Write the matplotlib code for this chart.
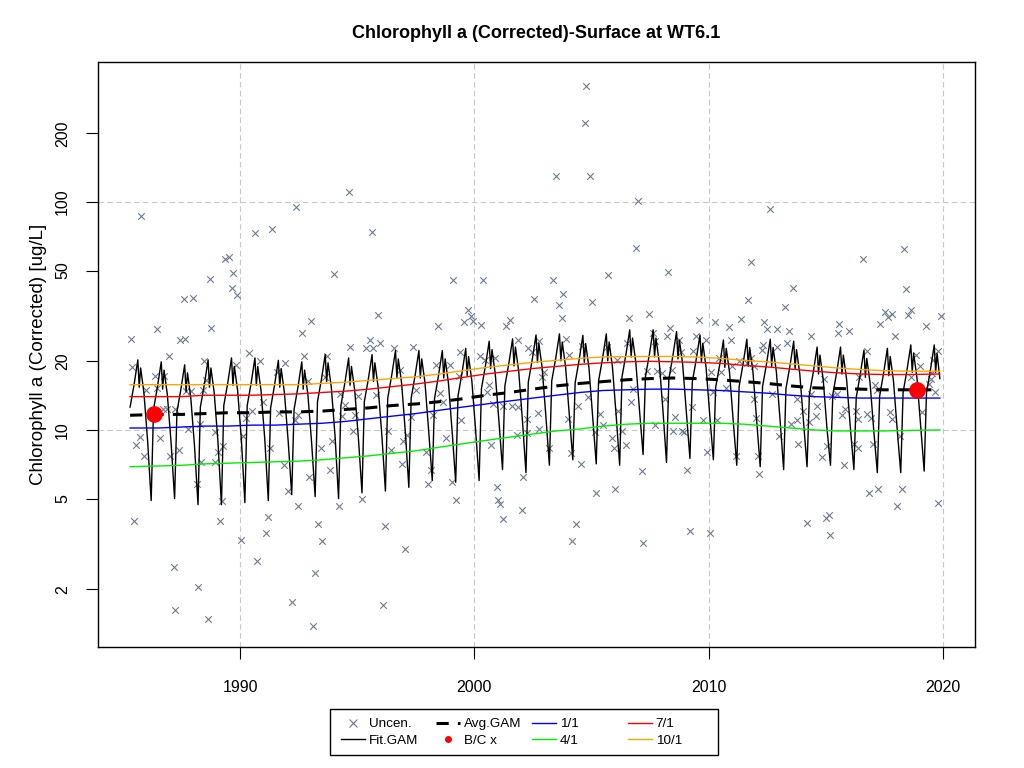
import numpy as np
import matplotlib
matplotlib.use("Agg")
import matplotlib.pyplot as plt
from matplotlib.lines import Line2D
from matplotlib.patches import Rectangle
from matplotlib.ticker import FixedLocator, FixedFormatter, NullLocator

plt.rcParams['font.family'] = ['Liberation Sans', 'DejaVu Sans']

TITLE = "Chlorophyll a (Corrected)-Surface at WT6.1"
YLABEL = "Chlorophyll a (Corrected) [ug/L]"

# uncensored observations (decimal year, ug/L)
OBS_YEAR = [
    1985.78, 1985.33, 1985.38, 1986.44, 1986.95, 1987.42, 1987.66, 1987.60, 1987.97, 1988.71,
    1989.37, 1989.54, 1989.71, 1989.64, 1989.88, 1988.77, 1988.46, 1988.54, 1985.98, 1986.38,
    1986.75, 1986.47, 1986.72, 1986.86, 1987.23, 1987.68, 1987.92, 1988.43, 1987.77, 1988.29,
    1988.94, 1990.13, 1990.26, 1985.74, 1985.55, 1986.57, 1985.88, 1987.00, 1987.38, 1989.05,
    1989.28, 1988.34, 1988.91, 1988.17, 1989.23, 1985.47, 1989.14, 1990.05, 1987.18, 1988.20,
    1987.20, 1988.63, 1990.39, 1989.84,
    1994.65, 1992.37, 1990.63, 1991.35, 1995.61, 1994.02, 1993.02, 1992.63, 1995.87, 1990.85,
    1991.91, 1992.74, 1993.71, 1994.70, 1995.54, 1995.36, 1995.67, 1995.97, 1996.58, 1991.56,
    1992.91, 1993.62, 1994.26, 1994.47, 1995.04, 1995.78, 1990.99, 1990.49, 1991.66, 1992.48,
    1992.34, 1994.33, 1994.90, 1994.83, 1996.32, 1993.45, 1993.93, 1991.27, 1991.89, 1993.82,
    1992.94, 1996.44, 1992.03, 1992.45, 1994.23, 1995.19, 1991.20, 1991.09, 1993.31, 1993.48,
    1996.18, 1990.72, 1993.19, 1992.20, 1996.11, 1993.10,
    1999.10, 2000.38, 2002.54, 1999.73, 1999.84, 1999.55, 1999.92, 2000.27, 1998.46, 2001.35,
    2001.52, 2001.87, 1997.36, 1999.38, 2000.24, 2000.88, 2002.30, 2002.44, 2002.77, 1996.82,
    1998.36, 1998.96, 2000.45, 1999.36, 2000.61, 2000.52, 1997.51, 1998.53, 1998.67, 2000.81,
    2001.23, 2001.59, 2001.87, 2002.73, 1997.28, 1998.25, 1999.41, 2002.26, 1997.11, 2002.23,
    2001.80, 2002.75, 1998.79, 2000.69, 1996.97, 1997.93, 1996.91, 1998.13, 1998.00, 1999.04,
    2000.95, 2002.09, 1999.21, 2001.02, 2001.09, 2001.23, 2002.03, 1997.04,
    2004.76, 2004.72, 2003.47, 2004.93, 2006.97, 2006.88, 2008.27, 2005.69, 2003.35, 2003.78,
    2003.61, 2005.00, 2003.72, 2006.60, 2007.45, 2008.36, 2003.89, 2007.64, 2008.20, 2006.51,
    2007.71, 2008.73, 2005.64, 2004.58, 2004.03, 2006.07, 2008.84, 2002.98, 2007.35, 2007.78,
    2008.42, 2007.99, 2002.87, 2004.86, 2006.78, 2006.68, 2008.13, 2004.41, 2005.36, 2006.14,
    2008.56, 2003.98, 2007.73, 2008.49, 2008.86, 2005.50, 2005.14, 2005.86, 2006.31, 2005.96,
    2006.45, 2003.18, 2004.12, 2004.55, 2007.14, 2009.06, 2005.19, 2006.00, 2004.35, 2004.18,
    2007.18,
    2012.61, 2011.79, 2013.61, 2011.70, 2013.27, 2009.60, 2010.25, 2011.36, 2010.88, 2012.36,
    2012.50, 2012.90, 2013.41, 2014.38, 2009.46, 2009.88, 2010.94, 2012.33, 2012.93, 2013.35,
    2009.31, 2011.80, 2012.26, 2010.45, 2011.31, 2011.62, 2010.12, 2010.51, 2010.98, 2011.93,
    2014.92, 2010.76, 2010.20, 2013.75, 2011.95, 2012.69, 2014.39, 2014.61, 2009.27, 2014.01,
    2014.58, 2014.29, 2013.78, 2013.50, 2012.02, 2010.34, 2009.77, 2008.94, 2013.01, 2013.82,
    2015.06, 2009.91, 2011.16, 2012.12, 2014.82, 2012.16, 2009.20, 2010.05, 2014.18, 2015.03,
    2015.15, 2015.20,
    2018.35, 2016.57, 2018.41, 2017.52, 2017.81, 2017.64, 2018.63, 2018.52, 2019.91, 2017.31,
    2019.26, 2015.56, 2015.99, 2015.50, 2017.95, 2016.78, 2018.83, 2019.80, 2019.59, 2019.02,
    2018.63, 2019.54, 2019.49, 2019.40, 2017.10, 2017.17, 2015.46, 2016.41, 2019.68, 2015.70,
    2015.84, 2016.27, 2016.39, 2016.74, 2016.93, 2017.72, 2017.81, 2019.12, 2018.18, 2016.21,
    2016.36, 2017.03, 2015.79, 2016.84, 2017.21, 2018.26, 2018.06, 2019.77, 2015.25,
]
OBS_VALUE = [
    87, 25, 18.8, 27.7, 21.2, 24.9, 25, 37.5, 38, 46,
    56, 57.5, 49, 42, 39, 28, 20, 16.5, 15, 17.2,
    17.3, 15.3, 12.3, 12.4, 12.3, 14.8, 14.8, 15, 10.1, 10.6,
    9.8, 9.4, 11.3, 9.3, 8.6, 9.2, 7.7, 7.7, 8.2, 8.0,
    8.5, 7.2, 7.2, 5.8, 4.9, 4.0, 4.0, 3.3, 2.5, 2.05,
    1.62, 1.48, 21.8, 19.2,
    111, 95, 73, 76, 73.5, 48.4, 30, 26.6, 31.8, 20,
    19.6, 21, 21.2, 23, 24.7, 22.8, 22.8, 24, 22.8, 18,
    16.4, 17.1, 14.4, 12.9, 14.1, 14.2, 13.3, 12.1, 11.9, 11.6,
    11.1, 11.5, 11.6, 9.9, 9.9, 8.3, 8.9, 8.3, 7.0, 6.7,
    6.2, 8.2, 5.4, 4.65, 4.65, 5.0, 4.15, 3.55, 3.85, 3.25,
    3.8, 2.67, 2.37, 1.76, 1.7, 1.38,
    45.5, 45.5, 37.5, 33.5, 31.5, 29.8, 30, 29, 28.5, 28.5,
    30.3, 24.9, 23.2, 22, 21, 20.7, 22.8, 21.9, 24.5, 18.4,
    19.3, 19.2, 20.3, 17.3, 15.7, 14.6, 15, 14.5, 13.3, 13,
    12.8, 12.8, 12.6, 11.9, 11.4, 11.6, 11.1, 11.2, 9.5, 9.7,
    9.5, 10.1, 9.2, 8.6, 8.9, 8.0, 7.1, 6.7, 5.8, 5.9,
    5.6, 6.2, 4.95, 4.95, 4.75, 4.05, 4.45, 3.0,
    321, 222, 130, 130, 101, 62.5, 49.5, 48, 45.5, 39.3,
    35.5, 36.5, 31, 31, 32.3, 27.9, 25, 26.5, 25.8, 24.1,
    24.5, 24.8, 23.2, 23.4, 21.3, 20.3, 21.9, 17.9, 18.1, 18.1,
    18.4, 17.7, 17.1, 14, 15.1, 13.3, 13.7, 12.8, 11.8, 12.1,
    11.4, 11.2, 10.5, 9.9, 9.9, 10.5, 9.8, 9.2, 9.9, 8.3,
    8.6, 8.3, 7.9, 7.1, 6.6, 6.7, 5.3, 5.5, 3.85, 3.25,
    3.2,
    93, 54.6, 42, 37, 34.5, 30.3, 29.8, 30.7, 28.2, 29.8,
    27.7, 27.7, 27.1, 25.8, 25.8, 24.9, 24.9, 23.6, 23, 24.1,
    22.2, 20.7, 22.5, 20.7, 20, 19.6, 17.9, 17.9, 19.1, 19.1,
    16.7, 15.3, 14.6, 13.7, 13.7, 14.4, 14.4, 12.8, 12.6, 12.1,
    11.5, 10.8, 11.1, 10.6, 11.3, 11.1, 11.1, 9.8, 9.4, 8.7,
    8.5, 8.0, 7.7, 7.7, 7.6, 6.4, 3.6, 3.55, 3.9, 4.1,
    4.25, 3.45,
    62, 56, 41.5, 32.8, 32.3, 31.3, 33.7, 31.8, 31.6, 29.1,
    28.5, 29.1, 27.3, 26.6, 25.8, 22.2, 21.4, 22.2, 20.2, 19.1,
    17.1, 17.7, 16.7, 15.9, 15.8, 15, 14.4, 17.0, 14.6, 11.6,
    12.3, 12.1, 11.2, 11.8, 11.3, 12.0, 11.2, 12.0, 9.4, 8.7,
    8.3, 8.7, 7.0, 5.3, 5.5, 5.5, 4.65, 4.8, 14.1,
]

YEARS = list(range(1985, 2020))

# Fit.GAM: seasonal knots (fraction of the year) and values per year
FIT_PHASE = [0.20, 0.30, 0.47, 0.63, 0.69, 0.75, 0.89, 1.05]
FIT_TROUGH = [5.0, 4.9, 5.0, 4.7, 4.7, 4.8, 4.9, 5.2, 5.1, 5.0, 5.3, 5.4, 5.6, 6.0, 5.9,
              6.0, 6.7, 6.5, 7.0, 7.4, 7.1, 7.0, 7.8, 7.2, 7.5, 7.4, 7.0, 6.9, 6.7, 6.9,
              7.0, 6.7, 6.5, 6.5, 6.6]
FIT_RISE = [12.6, 12.3, 12.0, 12.6, 12.8, 12.8, 12.5, 12.3, 13.3, 12.8, 13.3, 13.8, 13.8, 13.8, 14.1,
            15.2, 15.6, 16.2, 16.4, 16.1, 16.4, 17.1, 17.1, 16.7, 16.2, 15.4, 15.5, 15.5, 15.2, 14.3,
            14.3, 13.9, 14.1, 14.6, 14.6]
FIT_SHOULDER = [15.8, 15.5, 15.1, 15.8, 16.1, 16.1, 15.8, 15.5, 16.7, 16.1, 16.7, 17.4, 17.4, 17.4, 17.8,
                19.1, 19.6, 20.4, 20.6, 20.3, 20.6, 21.5, 21.5, 21.1, 20.4, 19.3, 19.5, 19.5, 19.1, 18.0,
                18.0, 17.5, 17.8, 18.4, 18.4]
FIT_PEAK = [20.3, 19.9, 19.3, 20.3, 20.7, 20.7, 20.2, 19.9, 21.4, 20.7, 21.4, 22.3, 22.3, 22.3, 22.8,
            24.5, 25.1, 26.1, 26.4, 26.0, 26.4, 27.5, 27.5, 27.0, 26.1, 24.8, 25.0, 25.0, 24.5, 23.1,
            23.1, 22.4, 22.8, 23.6, 23.6]
FIT_DIP = [15.4, 15.1, 14.7, 15.4, 15.7, 15.7, 15.4, 15.1, 16.3, 15.7, 16.3, 16.9, 16.9, 16.9, 17.3,
           18.6, 19.1, 19.8, 20.1, 19.8, 20.1, 20.9, 20.9, 20.5, 19.8, 18.8, 19.0, 19.0, 18.6, 17.6,
           17.6, 17.0, 17.3, 17.9, 17.9]
FIT_PEAK2 = [18.7, 18.3, 17.8, 18.7, 19.0, 19.0, 18.6, 18.3, 19.7, 19.0, 19.7, 20.5, 20.5, 20.5, 21.0,
             22.5, 23.1, 24.0, 24.3, 23.9, 24.3, 25.3, 25.3, 24.8, 24.0, 22.8, 23.0, 23.0, 22.5, 21.3,
             21.3, 20.6, 21.0, 21.7, 21.7]
FIT_FALL = [14.6, 14.3, 13.9, 14.6, 14.9, 14.9, 14.5, 14.3, 15.4, 14.9, 15.4, 16.1, 16.1, 16.1, 16.4,
            17.6, 18.1, 18.8, 19.0, 18.7, 19.0, 19.8, 19.8, 19.4, 18.8, 17.9, 18.0, 18.0, 17.6, 16.6,
            16.6, 16.1, 16.4, 17.0, 17.0]
FIT_LATE = [8.9, 8.8, 8.5, 8.9, 9.1, 9.1, 8.9, 8.8, 9.4, 9.1, 9.4, 9.8, 9.8, 9.8, 10.0,
            10.8, 11.0, 11.5, 11.6, 11.4, 11.6, 12.1, 12.1, 11.9, 11.5, 10.9, 11.0, 11.0, 10.8, 10.2,
            10.2, 9.9, 10.0, 10.4, 10.4]
FIT_START = (1985.30, 12.6)
FIT_END = (2019.87, 16.8)

# annual series: Avg.GAM and seasonal (1/1, 4/1, 7/1, 10/1) predictions
AVG_GAM = [11.6, 11.7, 11.7, 11.8, 11.9, 11.9, 12.0, 12.0, 12.1, 12.3, 12.5, 12.8, 13.0, 13.3, 13.7,
           14.2, 14.6, 15.1, 15.6, 16.0, 16.3, 16.6, 16.8, 16.9, 16.8, 16.6, 16.3, 16.0, 15.6, 15.3,
           15.2, 15.1, 15.0, 15.0, 15.0]
JAN1 = [10.2, 10.2, 10.3, 10.4, 10.4, 10.5, 10.5, 10.6, 10.7, 10.9, 11.2, 11.5, 11.8, 12.2, 12.6,
        13.0, 13.4, 13.8, 14.2, 14.6, 14.9, 15.0, 15.1, 15.1, 15.0, 14.9, 14.7, 14.5, 14.2, 14.0,
        13.9, 13.8, 13.8, 13.8, 13.8]
APR1 = [6.9, 6.95, 7.0, 7.1, 7.15, 7.2, 7.25, 7.3, 7.4, 7.55, 7.7, 7.9, 8.1, 8.4, 8.7,
        9.0, 9.3, 9.6, 9.9, 10.1, 10.4, 10.6, 10.7, 10.7, 10.7, 10.7, 10.6, 10.4, 10.2, 10.0,
        9.9, 9.9, 9.9, 9.95, 10.0]
JUL1 = [14.0, 14.0, 14.0, 14.2, 14.2, 14.2, 14.3, 14.4, 14.6, 14.8, 15.1, 15.5, 15.9, 16.4, 17.0,
        17.6, 18.1, 18.6, 19.0, 19.4, 19.7, 19.9, 20.0, 19.9, 19.8, 19.6, 19.2, 18.9, 18.5, 18.1,
        17.8, 17.6, 17.5, 17.5, 17.6]
OCT1 = [15.8, 15.8, 15.8, 15.8, 15.8, 15.8, 15.8, 15.8, 16.0, 16.2, 16.5, 16.8, 17.1, 17.6, 18.2,
        18.8, 19.3, 19.8, 20.2, 20.6, 20.9, 21.0, 21.0, 21.0, 20.9, 20.6, 20.2, 19.9, 19.5, 19.1,
        18.7, 18.4, 18.2, 18.1, 18.1]

# baseline / current back-transformed values
BC_YEAR = [1986.3, 2018.9]
BC_VALUE = [11.7, 15.0]

X_TICKS = [1990, 2000, 2010, 2020]
Y_TICKS = [2, 5, 10, 20, 50, 100, 200]
Y_GRID = [10, 100]

# ---- assemble the Fit.GAM polyline from the knot tables
fit_t = [FIT_START[0]]
fit_v = [FIT_START[1]]
rows = zip(FIT_TROUGH, FIT_RISE, FIT_SHOULDER, FIT_PEAK, FIT_DIP, FIT_PEAK2, FIT_FALL, FIT_LATE)
for yr, row in zip(YEARS, rows):
    for ph, val in zip(FIT_PHASE, row):
        t = yr + ph
        if FIT_START[0] < t < FIT_END[0]:
            fit_t.append(t)
            fit_v.append(val)
fit_t.append(FIT_END[0])
fit_v.append(FIT_END[1])

ann_t = np.array(YEARS, dtype=float) + 0.5
ann_t[0] = FIT_START[0]
ann_t[-1] = FIT_END[0]

fig = plt.figure(figsize=(10.24, 7.68), dpi=100)
ax = fig.add_axes([98 / 1024, 1 - 647 / 768, 877 / 1024, 585 / 768])
ax.set_yscale("log")

grid_kw = dict(color="#c8c8c8", lw=0.8, ls=(0, (5, 3)), zorder=0)
for x in X_TICKS:
    ax.axvline(x, **grid_kw)
for y in Y_GRID:
    ax.axhline(y, **grid_kw)

ax.scatter(OBS_YEAR, OBS_VALUE, marker="x", s=22, linewidths=0.8, color="#6c7b8f", zorder=2)
ax.plot(fit_t, fit_v, color="black", lw=1.0, zorder=3)
ax.plot(ann_t, AVG_GAM, color="black", lw=2.2, ls=(0, (4, 3)), zorder=4)
ax.plot(ann_t, JAN1, color="blue", lw=1.0, zorder=4)
ax.plot(ann_t, APR1, color="#00ee00", lw=1.0, zorder=4)
ax.plot(ann_t, JUL1, color="red", lw=1.0, zorder=4)
ax.plot(ann_t, OCT1, color="orange", lw=1.0, zorder=4)
ax.plot(BC_YEAR, BC_VALUE, "o", color="red", ms=11, zorder=5)

ax.set_xlim(1983.93, 2021.37)
ax.set_ylim(1.117, 411)

ax.xaxis.set_major_locator(FixedLocator(X_TICKS))
ax.xaxis.set_minor_locator(NullLocator())
ax.yaxis.set_major_locator(FixedLocator(Y_TICKS))
ax.yaxis.set_major_formatter(FixedFormatter([str(v) for v in Y_TICKS]))
ax.yaxis.set_minor_locator(NullLocator())
ax.tick_params(axis="both", direction="out", length=8.6, width=0.8, labelsize=11.5)
ax.tick_params(axis="x", pad=15)
ax.tick_params(axis="y", pad=11.5)
for lab in ax.get_yticklabels():
    lab.set_rotation(90)
    lab.set_va("center")
for sp in ax.spines.values():
    sp.set_linewidth(1.0)

ax.set_ylabel(YLABEL, fontsize=13.5, labelpad=6)
fig.text(536 / 1024, 1 - 33 / 768, TITLE, ha="center", va="center", fontsize=13, fontweight="bold")

# legend laid out in four fixed columns like the R original
fig.add_artist(Rectangle((330 / 1024, 1 - 755 / 768), 388 / 1024, 46 / 768,
                         transform=fig.transFigure, fill=False, lw=1.0, ec="black"))
cols = [
    [(Line2D([], [], ls="none", marker="x", color="#6c7b8f", ms=6, mew=0.8), "Uncen."),
     (Line2D([], [], color="black", lw=1.0), "Fit.GAM")],
    [(Line2D([], [], color="black", lw=2.2, ls=(0, (4, 3))), "Avg.GAM"),
     (Line2D([], [], ls="none", marker="o", color="red", ms=4), "B/C x")],
    [(Line2D([], [], color="blue", lw=1.0), "1/1"),
     (Line2D([], [], color="#00ee00", lw=1.0), "4/1")],
    [(Line2D([], [], color="red", lw=1.0), "7/1"),
     (Line2D([], [], color="orange", lw=1.0), "10/1")],
]
col_x = [341, 436, 532, 628]
for cx, items in zip(col_x, cols):
    hs, ls = zip(*items)
    fig.legend(hs, ls, loc="upper left", bbox_to_anchor=(cx / 1024, 1 - 718 / 768),
               frameon=False, fontsize=9.7, handlelength=1.75, handletextpad=0.3,
               borderpad=0, borderaxespad=0, labelspacing=0.3)

fig.savefig("out.png", dpi=100)
